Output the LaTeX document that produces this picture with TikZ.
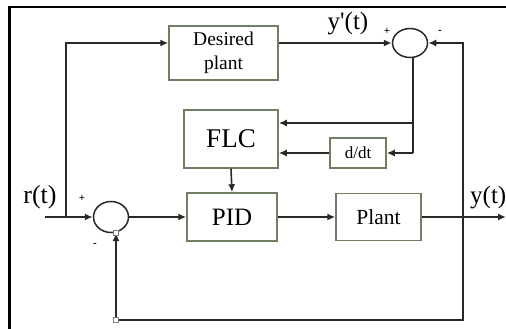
\documentclass[tikz,border=0pt]{standalone}
\usepackage{fontspec}
\setmainfont{Liberation Serif}
\usetikzlibrary{arrows.meta,shapes.geometric}
\definecolor{boxc}{RGB}{112,126,100}
\definecolor{linec}{RGB}{40,40,40}
\tikzset{
  blk/.style={draw=boxc,line width=1.5pt,fill=white,inner sep=0pt,align=center},
  sumc/.style={draw=linec,line width=1.5pt,ellipse,inner sep=0pt},
  conn/.style={draw=linec,line width=1.6pt},
  arr/.style={conn,-{Latex[length=8pt,width=7pt]}},
  sq/.style={draw=gray,fill=white,line width=0.9pt,minimum size=5.5pt,inner sep=0pt},
  lbl/.style={inner sep=0pt},
  sgn/.style={inner sep=0pt,font=\fontsize{11}{11}\selectfont\bfseries}
}
\begin{document}
\begin{tikzpicture}[x=1pt,y=-1pt]
\useasboundingbox (0,0) rectangle (506,329);
% frame
\draw[line width=2.6pt,black] (8,7) -- (506,7);
\draw[line width=3pt,black] (9.5,5.7) -- (9.5,329);
% blocks
\node[blk,minimum width=109pt,minimum height=54pt,font=\fontsize{19.5}{24}\selectfont] (des) at (223.5,53) {Desired\\plant};
\node[blk,minimum width=94pt,minimum height=58pt,font=\fontsize{27}{27}\selectfont] (flc) at (231,139) {FLC};
\node[blk,minimum width=90pt,minimum height=48pt,font=\fontsize{25}{25}\selectfont] (pid) at (232,217) {PID};
\node[blk,minimum width=85pt,minimum height=47pt,font=\fontsize{21.5}{22}\selectfont] (plant) at (378.5,217) {Plant};
\node[blk,minimum width=56pt,minimum height=30pt,font=\fontsize{17}{17}\selectfont] (ddt) at (358,153) {d/dt};
% summing junctions
\node[sumc,minimum width=35pt,minimum height=29pt] (sum2) at (410,43) {};
\node[sumc,minimum width=35pt,minimum height=31pt] (sum1) at (111,217) {};
% coordinates
\coordinate (rin) at (45,217);
\coordinate (j1) at (66,217);
\coordinate (yout) at (506,217);
\coordinate (fb) at (463,217);
\coordinate (b1) at (413,123);
\coordinate (b2) at (413,153);
\node[sq] (sq2) at (116,320) {};
% connectors
\draw[arr] (rin) -- (sum1.west);
\draw[arr] (j1) |- (des.west |- sum2.center);
\draw[arr] (des.east |- sum2.center) -- (sum2.west);
\draw[arr] (sum1.east) -- (pid.west);
\draw[arr] (pid.east) -- (plant.west);
\draw[arr] (plant.east) -- (yout);
\draw[arr] (fb) |- (sum2.east);
\draw[conn] (fb) |- (sq2.east);
\draw[arr] (sq2.north) -- (116,233);
\node[sq] (sq1) at (116,233) {};
\draw[conn] (b1 |- sum2.south) -- (b2);
\draw[arr] (b1) -- (flc.east |- b1);
\draw[arr] (b2) -- (ddt.east);
\draw[arr] (ddt.west) -- (flc.east |- ddt.west);
\draw[arr] (flc.south) -- (pid.north);
% labels
\node[lbl,font=\fontsize{25}{25}\selectfont] (yp) at (348,24) {y\textquotesingle(t)};
\node[lbl,font=\fontsize{26}{26}\selectfont] (rt) at (40,197) {r(t)};
\node[lbl,anchor=west,font=\fontsize{25}{25}\selectfont] (yt) at (470,198) {y(t)};
\node[sgn] (p2) at (387,31) {+};
\node[sgn] (m2) at (440,32) {-};
\node[sgn] (p1) at (82,198) {+};
\node[sgn] (m1) at (95,245) {-};
\end{tikzpicture}
\end{document}
